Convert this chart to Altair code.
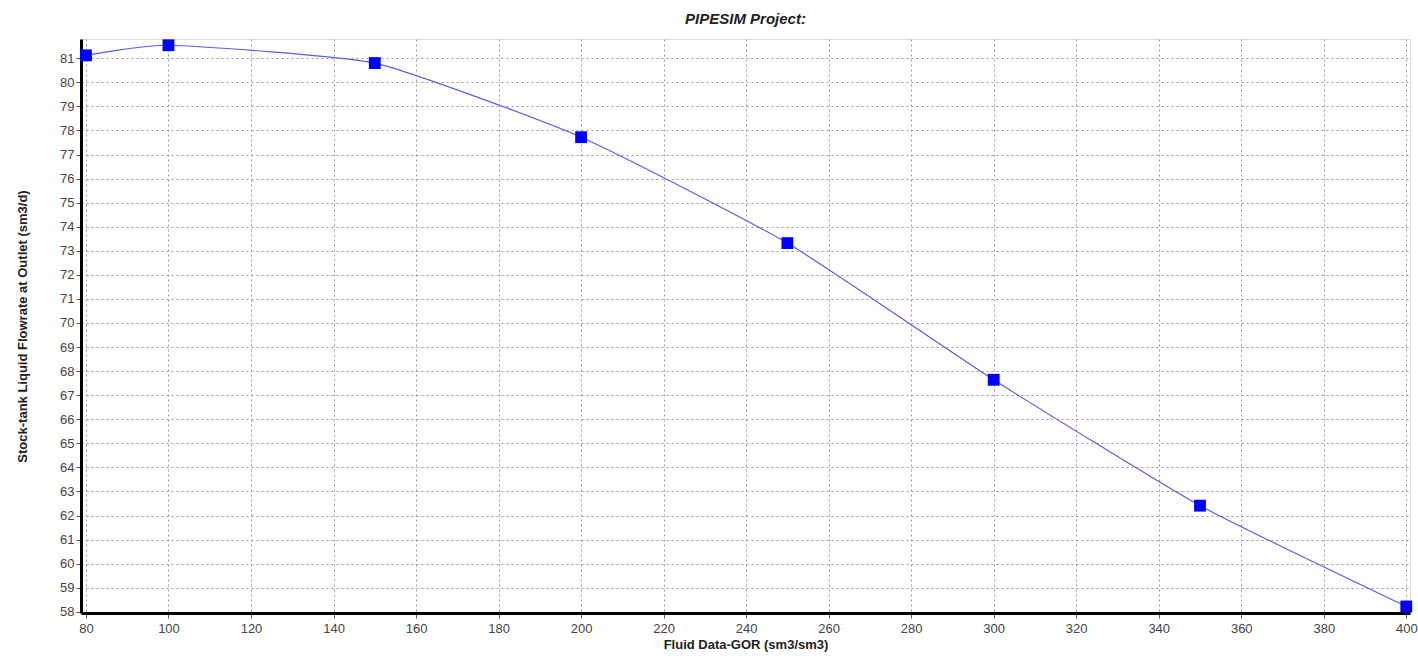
import altair as alt
import pandas as pd

gor = [80, 100, 150, 200, 250, 300, 350, 400]
flow = [81.12, 81.54, 80.80, 77.72, 73.32, 67.64, 62.41, 58.22]

df = pd.DataFrame({"gor": gor, "flow": flow})

x_ticks = list(range(80, 401, 20))
y_ticks = list(range(58, 82))

xs = alt.Scale(domain=[78.8, 400.9], nice=False, zero=False)
ys = alt.Scale(domain=[57.95, 81.8], nice=False, zero=False)

x_axis = alt.Axis(values=x_ticks, title="Fluid Data-GOR (sm3/sm3)", grid=True,
                  gridDash=[2, 3], gridColor="#9a9a9a", gridWidth=1, labelOverlap=False,
                  domainColor="black", domainWidth=3, tickColor="#555555", tickSize=5,
                  labelFont="Liberation Sans", labelFontSize=13, labelColor="#444444",
                  labelPadding=4, titleFont="Liberation Sans", titleFontSize=13,
                  titleFontWeight="bold", titleColor="#222222", titlePadding=3)
y_axis = alt.Axis(values=y_ticks, title="Stock-tank Liquid Flowrate at Outlet (sm3/d)", grid=True,
                  gridDash=[2, 3], gridColor="#9a9a9a", gridWidth=1, labelOverlap=False,
                  domainColor="black", domainWidth=3, tickColor="#555555", tickSize=5,
                  labelFont="Liberation Sans", labelFontSize=13, labelColor="#444444",
                  labelPadding=2, titleFont="Liberation Sans", titleFontSize=13,
                  titleFontWeight="bold", titleColor="#222222", titlePadding=30)

base = alt.Chart(df).encode(
    x=alt.X("gor:Q", scale=xs, axis=x_axis),
    y=alt.Y("flow:Q", scale=ys, axis=y_axis),
)
line = base.mark_line(color="#5b5bf0", strokeWidth=1.2, interpolate="cardinal", tension=0.5, clip=False)
pts = base.mark_square(color="#0000ff", size=140, opacity=1, clip=False)

chart = (line + pts).properties(
    width=1329, height=574,
    autosize=alt.AutoSizeParams(type="none"),
    padding={"left": 81, "top": 39, "right": 8, "bottom": 47},
    title=alt.TitleParams("PIPESIM Project:", font="Liberation Sans", fontSize=15,
                          fontWeight="bold", fontStyle="italic", color="#222222",
                          anchor="middle", offset=12),
).configure_view(stroke="#888888", strokeWidth=2).configure(background="white")

chart.save("out.html", embed_options={"renderer": "svg", "actions": False})
